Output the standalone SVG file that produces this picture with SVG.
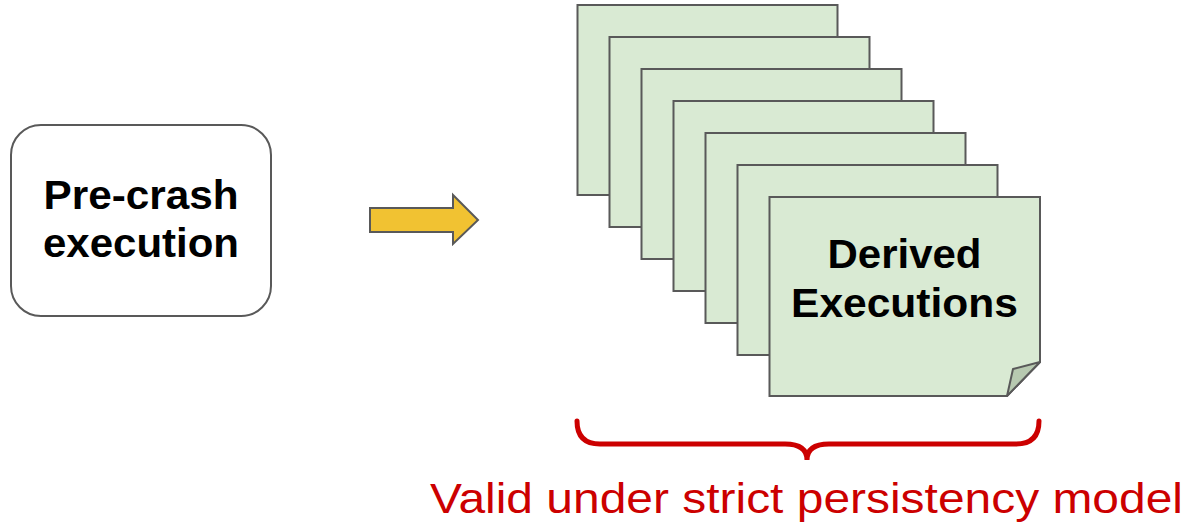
<svg xmlns="http://www.w3.org/2000/svg" width="1187" height="526" viewBox="0 0 1187 526">
<style>
.page{fill:#d9ead3;stroke:#595959;stroke-width:2}
.lbl{font-family:"Liberation Sans",Arial,sans-serif;font-weight:bold;font-size:41px;fill:#000;text-anchor:middle}
</style>
<rect width="1187" height="526" fill="#fff"/>
<g id="precrash">
<rect x="11" y="125" width="260" height="191" rx="30" fill="#fff" stroke="#595959" stroke-width="2"/>
<text class="lbl" x="141" y="209" textLength="195" lengthAdjust="spacingAndGlyphs">Pre-crash</text>
<text class="lbl" x="141" y="257" textLength="196" lengthAdjust="spacingAndGlyphs">execution</text>
</g>
<g id="connectors">
<polygon points="370,208 453,208 453,195 478,220 453,244 453,232 370,232" fill="#f1c232" stroke="#595959" stroke-width="2"/>
</g>
<g id="derived">
<rect class="page" x="577.5" y="5" width="260" height="190"/>
<rect class="page" x="609.5" y="37" width="260" height="190"/>
<rect class="page" x="641.5" y="69" width="260" height="190"/>
<rect class="page" x="673.5" y="101" width="260" height="190"/>
<rect class="page" x="705.5" y="133" width="260" height="190"/>
<rect class="page" x="737.5" y="165" width="260" height="190"/>
<path class="page" d="M769.5,197 H1040 V362 L1007,396 H769.5 Z"/>
<path d="M1040,362 L1013,369 L1007,396 Z" fill="#b7c9b0" stroke="#595959" stroke-width="2" stroke-linejoin="round"/>
<text class="lbl" x="904.5" y="268" textLength="154" lengthAdjust="spacingAndGlyphs">Derived</text>
<text class="lbl" x="904.5" y="317" textLength="227" lengthAdjust="spacingAndGlyphs">Executions</text>
</g>
<g id="brace">
<path d="M577,421 Q577,444 600,444 H785 Q807,444 807,460 Q807,444 829,444 H1016 Q1039,444 1039,421" fill="none" stroke="#cc0000" stroke-width="5" stroke-linecap="round"/>
<text x="806.5" y="513" font-family="'Liberation Sans',Arial,sans-serif" font-size="43" fill="#cc0000" text-anchor="middle" textLength="753" lengthAdjust="spacingAndGlyphs">Valid under strict persistency model</text>
</g>
</svg>
